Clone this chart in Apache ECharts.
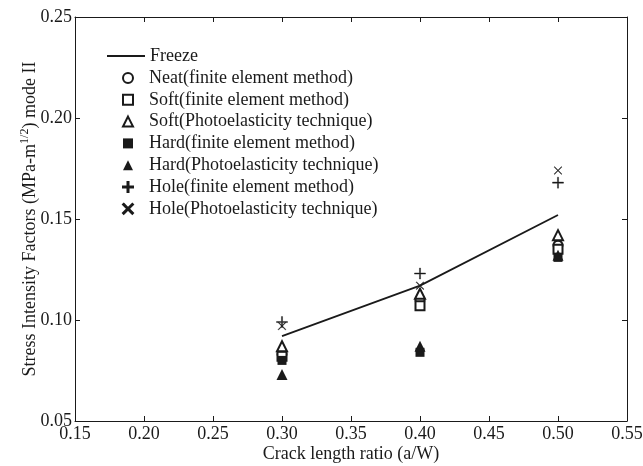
<!DOCTYPE html>
<html>
<head>
<meta charset="utf-8">
<script src="https://cdn.jsdelivr.net/npm/echarts@6/dist/echarts.min.js"></script>
<style>
    html, body { margin: 0; padding: 0; background: #fff; }
    #main { width: 643px; height: 466px; }
</style>
</head>
<body>
<div id="main"></div>
<script>
    // crack length ratio a/W
    var ratios = [0.30, 0.40, 0.50];

    var freeze = [0.092, 0.117, 0.152];
    var neatFem = [0.083, 0.110, 0.137];
    var softFem = [0.082, 0.107, 0.135];
    var softPhoto = [0.087, 0.113, 0.142];
    var hardFem = [0.080, 0.084, 0.131];
    var hardPhoto = [0.073, 0.087, 0.132];
    var holeFem = [0.099, 0.123, 0.168];
    var holePhoto = [0.097, 0.117, 0.174];

    var xTicks = [0.15, 0.20, 0.25, 0.30, 0.35, 0.40, 0.45, 0.50, 0.55];
    var yTicks = [0.05, 0.10, 0.15, 0.20, 0.25];

    var FONT = 'Liberation Serif';
    var FS = 18;
    var INK = '#1a1a1a';
    var plusPath = 'path://M4.5,0h1v4.5h4.5v1h-4.5v4.5h-1v-4.5h-4.5v-1h4.5z';
    var crossPath = 'path://M0.7,0L5,4.3L9.3,0L10,0.7L5.7,5L10,9.3L9.3,10L5,5.7L0.7,10L0,9.3L4.3,5L0,0.7z';

    var markerNames = ['Neat(finite element method)',
        'Soft(finite element method)',
        'Soft(Photoelasticity technique)',
        'Hard(finite element method)',
        'Hard(Photoelasticity technique)',
        'Hole(finite element method)',
        'Hole(Photoelasticity technique)'];

    function pairs(ys) {
        var out = [];
        for (var i = 0; i < ratios.length; ++i) {
            out.push([ratios[i], ys[i]]);
        }
        return out;
    }

    function scatter(name, ys, symbol, size, bw) {
        return {
            name: name,
            type: 'scatter',
            data: pairs(ys),
            symbol: symbol,
            symbolSize: size,
            itemStyle: { color: INK, borderColor: INK, borderWidth: bw, opacity: 1 },
            z: 3
        };
    }

    function fmt(v) { return v.toFixed(2); }

    var option = {
        animation: false,
        textStyle: { fontFamily: FONT },
        grid: { left: 75, right: 16, top: 17, bottom: 45, outerBoundsMode: 'none', containLabel: false },
        legend: [{
            orient: 'vertical',
            left: 102,
            top: 42,
            itemWidth: 38,
            itemHeight: 2,
            textStyle: { fontFamily: FONT, fontSize: FS, color: INK },
            data: [{ name: 'Freeze', icon: 'rect' }]
        }, {
            orient: 'vertical',
            left: 117,
            top: 64,
            itemGap: 3.8,
            itemWidth: 10,
            itemHeight: 10,
            textStyle: { fontFamily: FONT, fontSize: FS, color: INK, padding: [0, 0, 0, 11] },
            data: markerNames
        }],
        xAxis: [{
            type: 'value',
            min: xTicks[0],
            max: xTicks[xTicks.length - 1],
            interval: 0.05,
            name: 'Crack length ratio (a/W)',
            nameLocation: 'middle',
            nameGap: 24,
            nameMoveOverlap: false,
            nameTextStyle: { fontFamily: FONT, fontSize: FS, color: INK },
            axisLine: { lineStyle: { color: INK, width: 1 } },
            axisTick: { inside: true, length: 5, lineStyle: { color: INK } },
            axisLabel: { formatter: fmt, fontFamily: FONT, fontSize: FS, color: INK, margin: 4 },
            splitLine: { show: false }
        }, {
            type: 'value',
            position: 'top',
            min: xTicks[0],
            max: xTicks[xTicks.length - 1],
            interval: 0.05,
            axisLine: { lineStyle: { color: INK, width: 1 } },
            axisTick: { inside: true, length: 5, lineStyle: { color: INK } },
            axisLabel: { show: false },
            splitLine: { show: false }
        }],
        yAxis: [{
            type: 'value',
            min: yTicks[0],
            max: yTicks[yTicks.length - 1],
            interval: 0.05,
            name: 'Stress Intensity Factors (MPa-m{sup|1/2}) mode II',
            nameLocation: 'middle',
            nameGap: 34,
            nameMoveOverlap: false,
            nameTextStyle: {
                fontFamily: FONT, fontSize: FS, color: INK,
                rich: { sup: { fontFamily: FONT, fontSize: 12, color: INK, padding: [0, 0, 10, 0] } }
            },
            axisLine: { lineStyle: { color: INK, width: 1 } },
            axisTick: { inside: true, length: 5, lineStyle: { color: INK } },
            axisLabel: { formatter: fmt, fontFamily: FONT, fontSize: FS, color: INK, margin: 3 },
            splitLine: { show: false }
        }, {
            type: 'value',
            position: 'right',
            min: yTicks[0],
            max: yTicks[yTicks.length - 1],
            interval: 0.05,
            axisLine: { lineStyle: { color: INK, width: 1 } },
            axisTick: { inside: true, length: 5, lineStyle: { color: INK } },
            axisLabel: { show: false },
            splitLine: { show: false }
        }],
        series: [
            {
                name: 'Freeze',
                type: 'line',
                data: pairs(freeze),
                symbol: 'none',
                lineStyle: { color: INK, width: 1.8 },
                itemStyle: { color: INK },
                z: 2
            },
            scatter(markerNames[0], neatFem, 'emptyCircle', 9, 1.5),
            scatter(markerNames[1], softFem, 'emptyRect', 9, 1.5),
            scatter(markerNames[2], softPhoto, 'emptyTriangle', 10, 1.5),
            scatter(markerNames[3], hardFem, 'rect', 9, 0),
            scatter(markerNames[4], hardPhoto, 'triangle', 11, 0),
            scatter(markerNames[5], holeFem, plusPath, 11, 0.4),
            scatter(markerNames[6], holePhoto, crossPath, 8, 0.3)
        ]
    };

    var myChart = echarts.init(document.getElementById('main'));
    myChart.setOption(option);
</script>
</body>
</html>
